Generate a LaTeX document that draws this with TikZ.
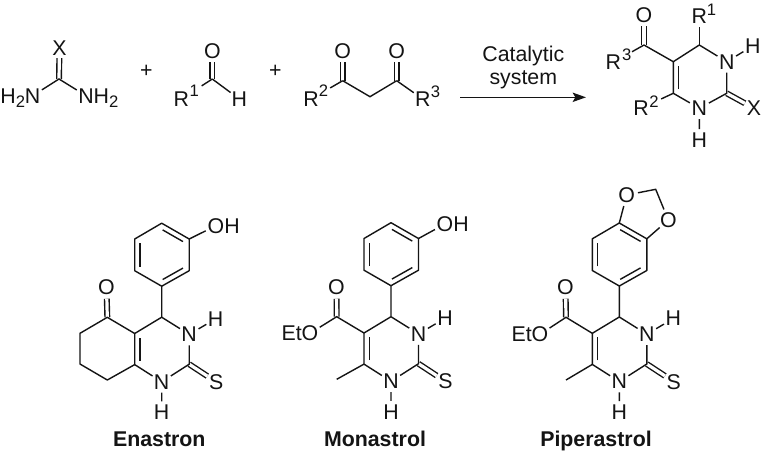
\documentclass[tikz,border=0pt]{standalone}
\usepackage{fontspec}
\setmainfont{Liberation Sans}
\usetikzlibrary{calc,arrows.meta}
\newcommand{\chemfs}{\fontsize{16}{19}\selectfont}
\newcommand{\lowtwo}{\raisebox{-3.6pt}{\fontsize{12.5}{14}\selectfont 2}}
\tikzset{
  atom/.style={circle,inner sep=0pt,font=\chemfs,text=inktext},
  side/.style={inner sep=0pt,font=\chemfs,text=inktext},
  num/.style={inner sep=0pt,font=\fontsize{12.5}{14}\selectfont,text=inktext},
  title/.style={inner sep=0pt,anchor=base,font=\fontsize{16}{19}\selectfont\bfseries,text=inktext},
  bond/.style={draw=inktext,line width=1.05pt},
  dbond/.style={draw=inktext,line width=1.05pt,double=white,double distance=2.4pt},
  rbond/.style={bond,shorten >=#1pt},
}
\definecolor{inktext}{HTML}{141414}
% inner line of a ring double bond, on the right of a -> b
\newcommand{\ibond}[2]{\draw[bond] ($(#1)!.13!(#2)!4pt!-90:(#2)$) -- ($(#1)!.87!(#2)!4pt!-90:(#2)$);}
% dihydropyrimidinethione core: prefix, x and y of C4
\newcommand{\core}[3]{%
  \begin{scope}[shift={(#2,#3)}]
    \coordinate (#1c4) at (0,0);
    \coordinate (#1c5) at (-27,16.3);
    \coordinate (#1c6) at (-27,47.4);
    \coordinate (#1c2) at (27.5,47);
    \node[atom] (#1n3) at (27.5,17.2) {N};
    \node[atom] (#1n1) at (0,64.6) {N};
    \node[atom] (#1h3) at (54,1.6) {H};
    \node[atom] (#1h1) at (0,95) {H};
    \node[atom] (#1s) at (54.5,64.7) {S};
    \coordinate (#1a) at (0,-31);
    \coordinate (#1b) at (27.5,-46.5);
    \coordinate (#1d) at (27.5,-78.2);
    \coordinate (#1e) at (0,-94);
    \coordinate (#1f) at (-27,-78.2);
    \coordinate (#1g) at (-27,-46.5);
    \draw[dbond] (#1c2) -- (#1s);
    \draw[bond] (#1c4) -- (#1c5) -- (#1c6) -- (#1n1) (#1n1) -- (#1c2) -- (#1n3) (#1n3) -- (#1c4);
    \draw[bond] (#1n3) -- (#1h3) (#1n1) -- (#1h1) (#1c4) -- (#1a);
    \draw[bond,line join=round] (#1a) -- (#1b) -- (#1d) -- (#1e) -- (#1f) -- (#1g) -- cycle;
    \ibond{#1c6}{#1c5}
    \ibond{#1e}{#1d}
    \ibond{#1b}{#1a}
    \ibond{#1g}{#1f}
  \end{scope}}
\begin{document}
\begin{tikzpicture}[x=.75pt,y=-.75pt]
\useasboundingbox[fill=white] (0,0) rectangle (764,455);

% --- urea
\coordinate (uc) at (59,79);
\node[atom] (ux) at (59.5,47.7) {X};
\node[atom] (un1) at (32.7,95.7) {N};
\node[atom] (un2) at (86,95.7) {N};
\node[side,anchor=base east] (uh1) at ($(un1.base)+(-7.4,0)$) {H\lowtwo};
\node[side,anchor=base west] (uh2) at ($(un2.base)+(7.4,0)$) {H\lowtwo};
\draw[dbond] (uc) -- (ux);
\draw[bond] (un1) -- (uc) -- (un2);

\node[side] (plus1) at (146.3,71.7) {+};
\node[side] (plus2) at (275.3,71.7) {+};

% --- aldehyde
\coordinate (ac) at (212.3,79);
\node[atom] (ao) at (212.3,51) {O};
\node[atom] (ar) at (181.3,99) {R};
\node[num] (ar1) at (194.3,91) {1};
\node[atom] (ah) at (239.3,99) {H};
\draw[dbond] (ac) -- (ao);
\draw[rbond=10] (ac) -- (ar);
\draw[bond] (ac) -- (ah);

% --- diketone
\coordinate (k1) at (342.7,80.7);
\coordinate (k2) at (370,96.7);
\coordinate (k3) at (396.7,80.7);
\node[atom] (ko1) at (342.7,51) {O};
\node[atom] (ko2) at (396.7,51) {O};
\node[atom] (kr2) at (311,99) {R};
\node[num] (kr2n) at (323.5,91) {2};
\node[atom] (kr3) at (422.7,99) {R};
\node[num] (kr3n) at (435.5,91.5) {3};
\draw[dbond] (k1) -- (ko1);
\draw[dbond] (k3) -- (ko2);
\draw[bond] (k1) -- (k2) -- (k3);
\draw[rbond=8.5] (k1) -- (kr2);
\draw[bond] (k3) -- (kr3);

% --- arrow
\coordinate (arrs) at (460,97.3);
\coordinate (arre) at (586,97.3);
\draw[bond,-{Stealth[length=10pt,width=7pt,inset=2pt]}] (arrs) -- (arre);
\node[side] (cat1) at (523.3,56) {Catalytic};
\node[side] (cat2) at (523.3,80) {system};

% --- product
\coordinate (pco) at (644,45);
\coordinate (p5) at (673.3,61.7);
\coordinate (p4) at (699.3,45);
\coordinate (p2) at (726.7,93.3);
\coordinate (p6) at (673.3,93.3);
\node[atom] (poo) at (644,15) {O};
\node[atom] (pr3) at (613.3,62.3) {R};
\node[num] (pr3n) at (626.7,55) {3};
\node[atom] (pr1) at (699.3,15.7) {R};
\node[num] (pr1n) at (711.5,9.5) {1};
\node[atom] (pr2) at (641,108.3) {R};
\node[num] (pr2n) at (654,101.5) {2};
\node[atom] (pn3) at (726.7,61.7) {N};
\node[atom] (ph3) at (752.7,46) {H};
\node[atom] (pn1) at (699.3,108.3) {N};
\node[atom] (ph1) at (699.3,140) {H};
\node[atom] (pxx) at (754,108.3) {X};
\draw[dbond] (pco) -- (poo);
\draw[dbond] (p2) -- (pxx);
\draw[rbond=8] (pco) -- (pr3);
\draw[bond] (pco) -- (p5) -- (p4) -- (pn3);
\draw[bond] (p4) -- (pr1);
\draw[bond] (p5) -- (p6) -- (pn1);
\draw[rbond=8.5] (p6) -- (pr2);
\draw[bond] (pn1) -- (p2) -- (pn3);
\draw[bond] (pn3) -- (ph3) (pn1) -- (ph1);
\ibond{p6}{p5}

% --- Enastron
\core{e}{161.7}{317.2}
\node[atom] (eoh) at (216,225.7) {O};
\node[side,anchor=base west] (eohh) at ($(eoh.base)+(8,0)$) {H};
\draw[bond] (ed) -- (eoh);
\coordinate (er5) at (107.3,317.3);
\coordinate (er6) at (80,333.3);
\coordinate (er7) at (80,364);
\coordinate (er8) at (107.3,380);
\node[atom] (eo) at (106.5,287.3) {O};
\draw[dbond] (er5) -- (eo);
\draw[bond,line join=round] (ec5) -- (er5) -- (er6) -- (er7) -- (er8) -- (ec6);
\node[title] (etitle) at (159.3,446.5) {Enastron};

% --- Monastrol
\core{m}{391}{316.7}
\node[atom] (moh) at (445,224) {O};
\node[side,anchor=base west] (mohh) at ($(moh.base)+(8,0)$) {H};
\draw[bond] (md) -- (moh);
\coordinate (mce) at (336.7,316.7);
\coordinate (mme) at (336.7,379.3);
\node[atom] (mo) at (336.5,287.3) {O};
\node[atom] (moe) at (310,333.3) {O};
\node[side,anchor=base east] (met) at ($(moe.base)+(-8,0)$) {Et};
\draw[dbond] (mce) -- (mo);
\draw[bond] (moe) -- (mce) -- (mc5);
\draw[bond] (mc6) -- (mme);
\node[title] (mtitle) at (375,446.5) {Monastrol};

% --- Piperastrol
\core{q}{619.3}{317}
\node[atom] (qo1) at (626.7,195) {O};
\node[atom] (qo2) at (668.3,220) {O};
\coordinate (qch) at (655.7,189.3);
\draw[bond] (qe) -- (qo1) -- (qch) -- (qo2) -- (qd);
\coordinate (qce) at (566,317.3);
\coordinate (qme) at (566,380);
\node[atom] (qo) at (565.5,287.3) {O};
\node[atom] (qoe) at (540,334.3) {O};
\node[side,anchor=base east] (qet) at ($(qoe.base)+(-8,0)$) {Et};
\draw[dbond] (qce) -- (qo);
\draw[bond] (qoe) -- (qce) -- (qc5);
\draw[bond] (qc6) -- (qme);
\node[title] (qtitle) at (596,446.5) {Piperastrol};
\end{tikzpicture}
\end{document}
